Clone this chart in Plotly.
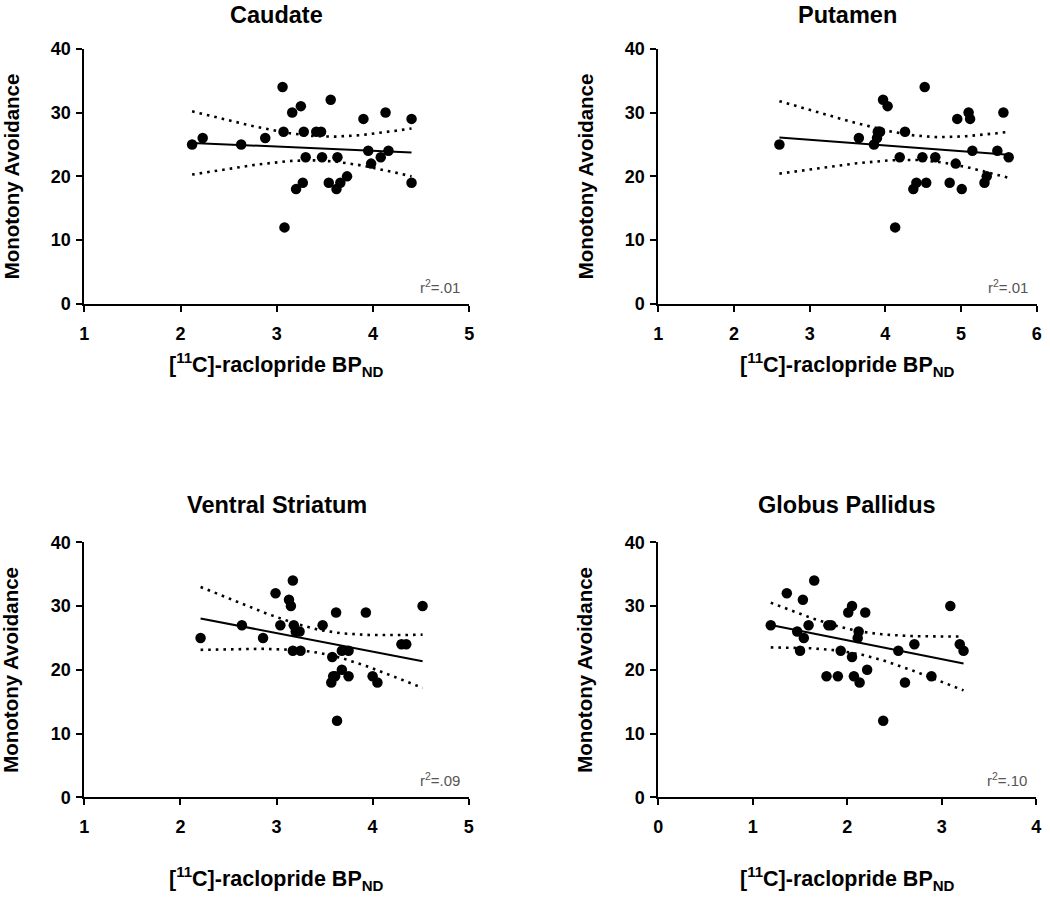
import numpy as np
import plotly.graph_objects as go

# ---------------- data ----------------
panel_titles = ["Caudate", "Putamen", "Ventral Striatum", "Globus Pallidus"]
r2_labels = ["r<sup>2</sup>=.01", "r<sup>2</sup>=.01", "r<sup>2</sup>=.09", "r<sup>2</sup>=.10"]

caudate_x = [2.12, 2.23, 2.63, 2.88, 3.06, 3.07, 3.08, 3.16, 3.25, 3.28, 3.30, 3.20, 3.27,
             3.41, 3.46, 3.47, 3.56, 3.54, 3.63, 3.62, 3.66, 3.73, 3.90, 3.95, 3.98, 4.08,
             4.13, 4.16, 4.40, 4.40]
caudate_y = [25, 26, 25, 26, 34, 27, 12, 30, 31, 27, 23, 18, 19,
             27, 27, 23, 32, 19, 23, 18, 19, 20, 29, 24, 22, 23,
             30, 24, 29, 19]

putamen_x = [2.60, 3.65, 3.85, 3.89, 3.92, 3.90, 3.93, 3.97, 4.03, 4.13, 4.19, 4.26, 4.37,
             4.41, 4.49, 4.52, 4.54, 4.66, 4.85, 4.93, 4.95, 5.01, 5.10, 5.12, 5.15,
             5.31, 5.34, 5.48, 5.56, 5.63]
putamen_y = [25, 26, 25, 26, 27, 27, 27, 32, 31, 12, 23, 27, 18,
             19, 23, 34, 19, 23, 19, 22, 29, 18, 30, 29, 24,
             19, 20, 24, 30, 23]

ventral_x = [2.21, 2.64, 2.86, 2.99, 3.04, 3.13, 3.15, 3.17, 3.18, 3.17, 3.20, 3.24, 3.25,
             3.48, 3.62, 3.58, 3.57, 3.59, 3.61, 3.63, 3.68, 3.68, 3.75, 3.75, 3.93,
             4.00, 4.05, 4.30, 4.35, 4.52]
ventral_y = [25, 27, 25, 32, 27, 31, 30, 34, 27, 23, 26, 26, 23,
             27, 29, 22, 18, 19, 19, 12, 20, 23, 23, 19, 29,
             19, 18, 24, 24, 30]

pallidus_x = [1.19, 1.36, 1.47, 1.53, 1.54, 1.50, 1.59, 1.65, 1.78, 1.80, 1.83, 1.90, 1.93,
              2.01, 2.05, 2.05, 2.07, 2.11, 2.12, 2.13, 2.19, 2.21, 2.38, 2.54, 2.61,
              2.71, 2.89, 3.09, 3.19, 3.23]
pallidus_y = [27, 32, 26, 31, 25, 23, 27, 34, 19, 27, 27, 19, 23,
              29, 30, 22, 19, 25, 26, 18, 29, 20, 12, 23, 18,
              24, 19, 30, 24, 23]

x_ranges = [[1, 5], [1, 6], [1, 5], [0, 4]]
y_range = [0, 40]
y_ticks = [0, 10, 20, 30, 40]

xs_all = [caudate_x, putamen_x, ventral_x, pallidus_x]
ys_all = [caudate_y, putamen_y, ventral_y, pallidus_y]

# ---------------- layout geometry (pixels) ----------------
W, H = 1050, 898
# (left, right, top, bottom) of each plot area in pixels
boxes = [(84.3, 469.3, 48.7, 304.0),
         (658.3, 1036.7, 48.7, 304.0),
         (84.3, 468.7, 542.3, 797.3),
         (658.3, 1036.3, 542.3, 797.3)]

FONT = "Liberation Sans, Arial, Helvetica, sans-serif"

fig = go.Figure()
annotations = []
layout_axes = {}

for i in range(4):
    x = np.array(xs_all[i], dtype=float)
    y = np.array(ys_all[i], dtype=float)
    n = len(x)
    xa = "x" if i == 0 else f"x{i+1}"
    ya = "y" if i == 0 else f"y{i+1}"

    # linear regression with 95% confidence band
    b1, b0 = np.polyfit(x, y, 1)
    resid = y - (b0 + b1 * x)
    s = np.sqrt(np.sum(resid ** 2) / (n - 2))
    xbar = x.mean()
    sxx = np.sum((x - xbar) ** 2)
    tcrit = 2.048
    xg = np.linspace(x.min(), x.max(), 60)
    yg = b0 + b1 * xg
    half = tcrit * s * np.sqrt(1.0 / n + (xg - xbar) ** 2 / sxx)

    for band in (yg + half, yg - half):
        fig.add_trace(go.Scatter(x=xg, y=band, mode="lines", xaxis=xa, yaxis=ya,
                                 line=dict(color="black", width=2.6, dash="2.6px,5px"),
                                 showlegend=False, hoverinfo="skip", cliponaxis=False))
    fig.add_trace(go.Scatter(x=xg, y=yg, mode="lines", xaxis=xa, yaxis=ya,
                             line=dict(color="black", width=2),
                             showlegend=False, hoverinfo="skip", cliponaxis=False))
    fig.add_trace(go.Scatter(x=x, y=y, mode="markers", xaxis=xa, yaxis=ya,
                             marker=dict(color="black", size=10.5, line=dict(width=0)),
                             showlegend=False, cliponaxis=False))

    l, r, t, b = boxes[i]
    xdom = [l / W, r / W]
    ydom = [1 - b / H, 1 - t / H]
    xr = x_ranges[i]
    axis_common = dict(showline=True, linecolor="black", linewidth=2,
                       ticks="outside", ticklen=6, tickwidth=2, tickcolor="black",
                       showgrid=False, zeroline=False, automargin=False,
                       tickfont=dict(family=FONT, size=18, color="black", weight="bold"))
    xkey = "xaxis" if i == 0 else f"xaxis{i+1}"
    ykey = "yaxis" if i == 0 else f"yaxis{i+1}"
    layout_axes[xkey] = dict(domain=xdom, range=xr, anchor=ya,
                             tickvals=list(range(xr[0], xr[1] + 1)),
                             ticklabelstandoff=6, **axis_common)
    layout_axes[ykey] = dict(domain=ydom, range=y_range, anchor=xa,
                             tickvals=y_ticks, ticklabelstandoff=2, **axis_common)

    cx = (l + r) / 2
    # panel title
    title_y = 14.5 if i < 2 else 505
    annotations.append(dict(text=f"<b>{panel_titles[i]}</b>", x=cx / W, y=1 - title_y / H,
                            xref="paper", yref="paper", xanchor="center", yanchor="middle",
                            showarrow=False, font=dict(family=FONT, size=23.5, color="black")))
    # x axis title
    xt_y = 364 if i < 2 else 878
    annotations.append(dict(text="<b>[<sup>11</sup>C]-raclopride BP<sub>ND</sub></b>",
                            x=cx / W, y=1 - xt_y / H, xref="paper", yref="paper",
                            xanchor="center", yanchor="middle", showarrow=False,
                            font=dict(family=FONT, size=21.5, color="black")))
    # y axis title
    yt_x = 11 if i % 2 == 0 else 585
    annotations.append(dict(text="<b>Monotony Avoidance</b>", x=yt_x / W, y=1 - ((t + b) / 2) / H,
                            xref="paper", yref="paper", xanchor="center", yanchor="middle",
                            textangle=-90, showarrow=False,
                            font=dict(family=FONT, size=20.5, color="black")))
    # r^2 label
    annotations.append(dict(text=r2_labels[i], x=(r - 7) / W, y=1 - (b - 18) / H,
                            xref="paper", yref="paper", xanchor="right", yanchor="middle",
                            showarrow=False, font=dict(family=FONT, size=15, color="#555555")))

fig.update_layout(width=W, height=H,
                  margin=dict(l=0, r=0, t=0, b=0, pad=0, autoexpand=False),
                  paper_bgcolor="white", plot_bgcolor="white",
                  annotations=annotations, showlegend=False, **layout_axes)

fig.write_html("out.html",
               config={"displayModeBar": False},
               post_script="document.body.style.margin='0px';document.body.style.overflow='hidden';")
